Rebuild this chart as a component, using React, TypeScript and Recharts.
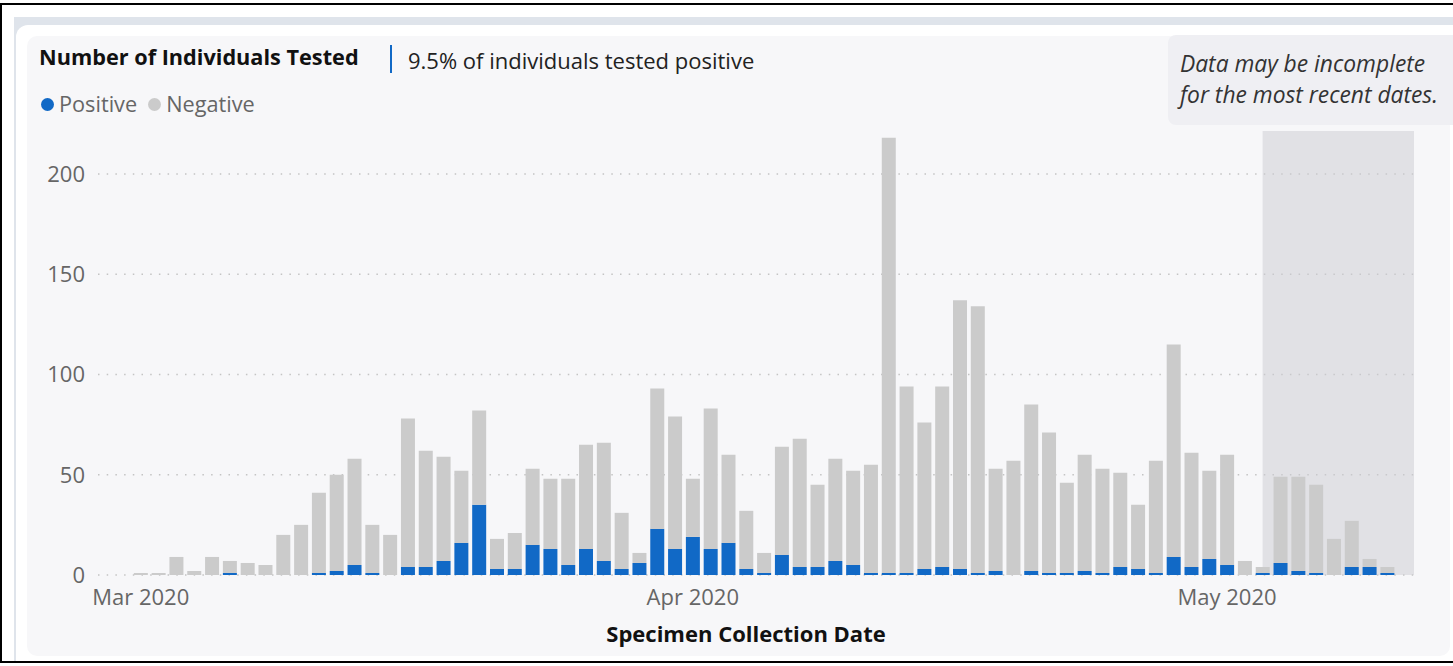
import { Bar, BarChart, CartesianGrid, ReferenceArea, XAxis, YAxis } from "recharts"

const dates = [
  "2020-03-01", "2020-03-02", "2020-03-03", "2020-03-04", "2020-03-05", "2020-03-06", "2020-03-07", "2020-03-08",
  "2020-03-09", "2020-03-10", "2020-03-11", "2020-03-12", "2020-03-13", "2020-03-14", "2020-03-15", "2020-03-16",
  "2020-03-17", "2020-03-18", "2020-03-19", "2020-03-20", "2020-03-21", "2020-03-22", "2020-03-23", "2020-03-24",
  "2020-03-25", "2020-03-26", "2020-03-27", "2020-03-28", "2020-03-29", "2020-03-30", "2020-03-31",
  "2020-04-01", "2020-04-02", "2020-04-03", "2020-04-04", "2020-04-05", "2020-04-06", "2020-04-07", "2020-04-08",
  "2020-04-09", "2020-04-10", "2020-04-11", "2020-04-12", "2020-04-13", "2020-04-14", "2020-04-15", "2020-04-16",
  "2020-04-17", "2020-04-18", "2020-04-19", "2020-04-20", "2020-04-21", "2020-04-22", "2020-04-23", "2020-04-24",
  "2020-04-25", "2020-04-26", "2020-04-27", "2020-04-28", "2020-04-29", "2020-04-30",
  "2020-05-01", "2020-05-02", "2020-05-03", "2020-05-04", "2020-05-05", "2020-05-06", "2020-05-07", "2020-05-08",
  "2020-05-09", "2020-05-10",
]

// individuals tested per day (positive + negative)
const tested = [
  1, 1, 9, 2, 9, 7, 6, 5, 20, 25, 41, 50, 58, 25, 20, 78, 62, 59, 52, 82, 18, 21, 53, 48, 48, 65, 66, 31, 11, 93, 79,
  48, 83, 60, 32, 11, 64, 68, 45, 58, 52, 55, 218, 94, 76, 94, 137, 134, 53, 57, 85, 71, 46, 60, 53, 51, 35, 57, 115, 61, 52,
  60, 7, 4, 49, 49, 45, 18, 27, 8, 4,
]

const positive = [
  0, 0, 0, 0, 0, 1, 0, 0, 0, 0, 1, 2, 5, 1, 0, 4, 4, 7, 16, 35, 3, 3, 15, 13, 5, 13, 7, 3, 6, 23, 13,
  19, 13, 16, 3, 1, 10, 4, 4, 7, 5, 1, 1, 1, 3, 4, 3, 1, 2, 0, 2, 1, 1, 2, 1, 4, 3, 1, 9, 4, 8,
  5, 0, 1, 6, 2, 1, 0, 4, 4, 1,
]

const monthTicks = ["2020-03-01", "2020-04-01", "2020-05-01"]
const monthLabels = ["Mar 2020", "Apr 2020", "May 2020"]
const yTicks = [0, 50, 100, 150, 200]
const incompleteFrom = "2020-05-03"

const DAY = 86400000
const origin = Date.parse(dates[0])
const dayOf = (d: string) => Math.round((Date.parse(d) - origin) / DAY)

const rows = dates.map((d, i) => ({
  day: dayOf(d),
  positive: positive[i],
  negative: tested[i] - positive[i],
}))

const tickDays = monthTicks.map(dayOf)

const font = "'Open Sans', 'Noto Sans', sans-serif"
const BLUE = "#1169c6"
const GREY = "#cbcbcb"

export default function App() {
  return (
    <div
      style={{
        position: "absolute",
        left: 0,
        top: 0,
        width: 1453,
        height: 666,
        overflow: "hidden",
        background: "#fff",
        fontFamily: font,
      }}
    >
      <div
        style={{
          position: "absolute",
          left: 0,
          top: 3,
          width: 1470,
          height: 660,
          boxSizing: "border-box",
          border: "2px solid #000",
        }}
      />
      <div style={{ position: "absolute", left: 14, top: 17, width: 1460, height: 644, background: "#dfe4eb" }} />
      <div
        style={{
          position: "absolute",
          left: 16,
          top: 25,
          width: 1460,
          height: 636,
          background: "#fff",
          borderTopLeftRadius: 12,
        }}
      />
      <div
        style={{
          position: "absolute",
          left: 27,
          top: 36,
          width: 1423,
          height: 620,
          background: "#f7f7f9",
          borderRadius: 10,
        }}
      />

      <div
        style={{
          position: "absolute",
          left: 39,
          top: 45.5,
          fontSize: 21.7,
          lineHeight: 1,
          fontWeight: 700,
          color: "#111",
          whiteSpace: "nowrap",
        }}
      >
        Number of Individuals Tested
      </div>
      <div style={{ position: "absolute", left: 390, top: 45, width: 2, height: 28, background: BLUE }} />
      <div
        style={{
          position: "absolute",
          left: 408,
          top: 48.5,
          fontSize: 22,
          lineHeight: 1,
          color: "#222",
          whiteSpace: "nowrap",
        }}
      >
        9.5% of individuals tested positive
      </div>

      <div
        style={{
          position: "absolute",
          left: 41,
          top: 93,
          display: "flex",
          alignItems: "center",
          fontSize: 21.7,
          lineHeight: "22px",
          color: "#666",
          whiteSpace: "nowrap",
        }}
      >
        <span style={{ width: 13, height: 13, borderRadius: "50%", background: BLUE, marginRight: 5 }} />
        <span>Positive</span>
        <span style={{ width: 13, height: 13, borderRadius: "50%", background: GREY, marginLeft: 11, marginRight: 5 }} />
        <span>Negative</span>
      </div>

      <div
        style={{
          position: "absolute",
          left: 1168,
          top: 35,
          width: 320,
          height: 90,
          borderRadius: 8,
          background: "#efeff3",
        }}
      >
        <div
          style={{
            position: "absolute",
            left: 12,
            top: 13,
            fontSize: 22.8,
            lineHeight: "31px",
            fontStyle: "italic",
            color: "#333",
            whiteSpace: "nowrap",
          }}
        >
          Data may be incomplete
          <br />
          for the most recent dates.
        </div>
      </div>

      <div style={{ position: "absolute", left: 0, top: 0 }}>
        <BarChart
          width={1453}
          height={666}
          data={rows}
          margin={{ top: 131, right: 39, bottom: 31, left: 38 }}
          barSize={14}
        >
          <ReferenceArea
            x1={dayOf(incompleteFrom)}
            x2={71.5}
            fill="#cbcbd1"
            fillOpacity={0.5}
            stroke="none"
          />
          <CartesianGrid
            vertical={false}
            horizontalValues={yTicks}
            stroke="#c4c4c4"
            strokeWidth={1.5}
            strokeDasharray="1.5 7.2"
          />
          <XAxis
            dataKey="day"
            type="number"
            domain={[-2.4, 71.5]}
            allowDataOverflow
            ticks={tickDays}
            tickFormatter={(v: number) => monthLabels[tickDays.indexOf(v)] ?? ""}
            axisLine={false}
            tickLine={false}
            tickSize={0}
            tickMargin={14}
            tick={{ fill: "#666", fontSize: 22, fontFamily: font }}
            interval={0}
            height={60}
          />
          <YAxis
            domain={[0, 221.4]}
            ticks={yTicks}
            allowDataOverflow
            axisLine={false}
            tickLine={false}
            tickSize={0}
            tickMargin={13}
            width={60}
            tick={{ fill: "#666", fontSize: 22, fontFamily: font }}
          />
          <Bar dataKey="positive" stackId="t" fill={BLUE} isAnimationActive={false} />
          <Bar dataKey="negative" stackId="t" fill={GREY} isAnimationActive={false} />
        </BarChart>
      </div>

      <div
        style={{
          position: "absolute",
          left: 0,
          width: 1492,
          top: 622,
          textAlign: "center",
          fontSize: 22,
          lineHeight: 1,
          fontWeight: 700,
          color: "#111",
          whiteSpace: "nowrap",
        }}
      >
        Specimen Collection Date
      </div>
    </div>
  )
}
